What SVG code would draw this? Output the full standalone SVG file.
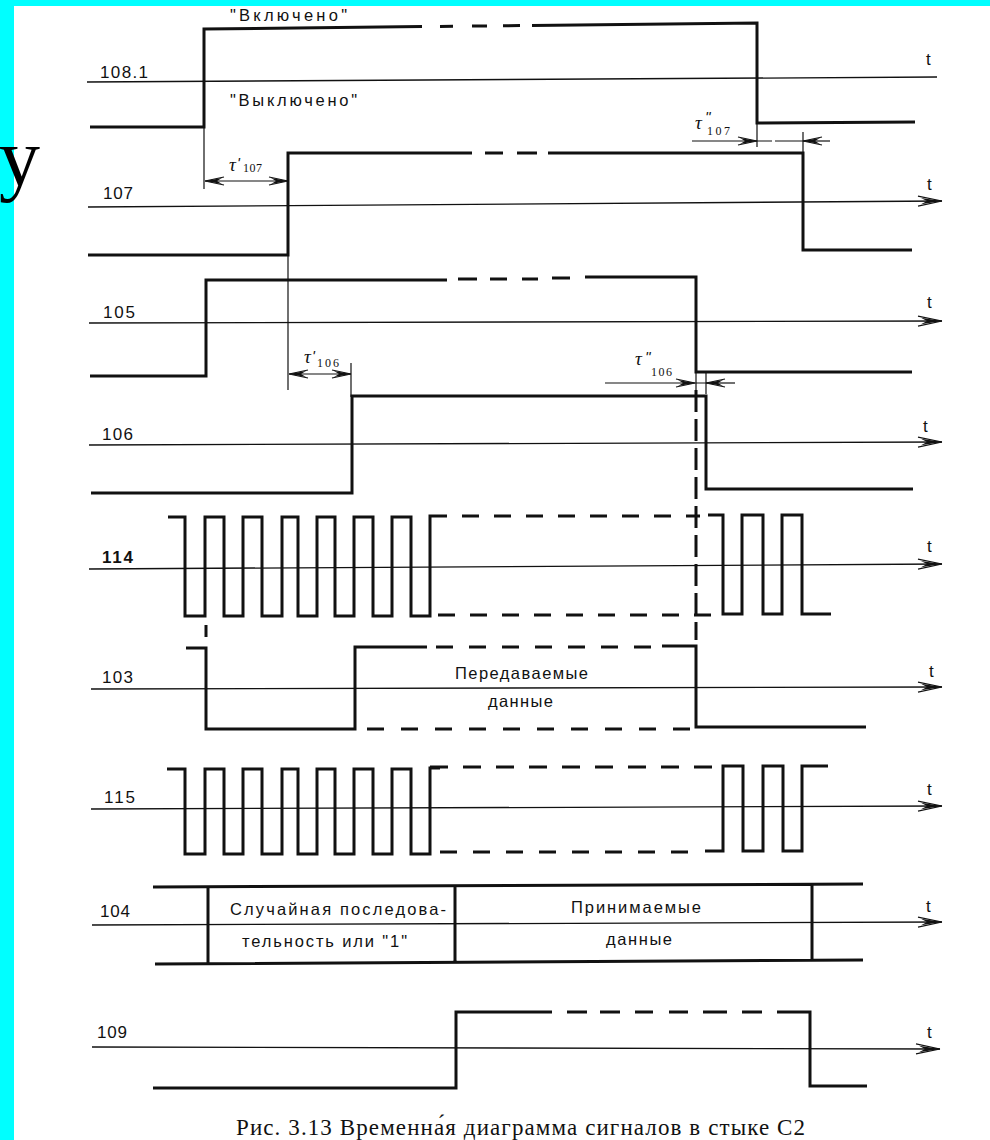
<svg xmlns="http://www.w3.org/2000/svg" width="990" height="1140" viewBox="0 0 990 1140">
<defs>
<style>
.sig{fill:none;stroke:#111;stroke-width:3;stroke-linejoin:miter;stroke-linecap:butt}
.ax{fill:none;stroke:#111;stroke-width:1.3}
.thin{fill:none;stroke:#111;stroke-width:1.2}
.lbl{font-family:"Liberation Sans",Arial,sans-serif;font-size:17px;fill:#111}
.tl{font-family:"Liberation Sans",Arial,sans-serif;font-size:17px;fill:#111}
.txt{font-family:"Liberation Sans",Arial,sans-serif;font-size:16.5px;fill:#111}
.tau{font-family:"Liberation Serif","Times New Roman",serif;font-style:italic;font-size:19px;fill:#111}
.pr{font-family:"Liberation Sans",Arial,sans-serif;font-style:italic;font-size:15px;fill:#111}
.sub{font-family:"Liberation Serif","Times New Roman",serif;font-size:12px;fill:#111}
</style>
<marker id="arr" viewBox="-25 -6 26 12" refX="0" refY="0" markerWidth="26" markerHeight="12" markerUnits="userSpaceOnUse" orient="auto-start-reverse">
<path d="M0,0 L-24,-5 M0,0 L-24,5" stroke="#111" stroke-width="1.2" fill="none"/>
<path d="M0,0 L-21,-3.2 L-15,0 L-21,3.2 Z" fill="#111"/>
</marker>
<marker id="sa" viewBox="-21 -5 22 10" refX="0" refY="0" markerWidth="22" markerHeight="10" markerUnits="userSpaceOnUse" orient="auto-start-reverse">
<path d="M0,0 L-19,-4 M0,0 L-19,4" stroke="#111" stroke-width="1.1" fill="none"/>
<path d="M0,0 L-17,-3 L-12,0 L-17,3 Z" fill="#111"/>
</marker>
</defs>
<rect x="0" y="0" width="990" height="1140" fill="#ffffff"/>
<rect x="0" y="0" width="990" height="6" fill="#00ffff"/>
<rect x="0" y="0" width="14" height="1140" fill="#00ffff"/>
<text x="-1" y="185" font-family="Liberation Serif,'Times New Roman',serif" font-size="82" fill="#000">у</text>

<g id="row-108-1">
<path class="ax" d="M87,82 L937,77"/>
<path class="sig" d="M90,127 H204 V29 L422,26.6"/>
<path class="sig" d="M440,26.4 L453,26.3 M472,26 L487,25.9 M503,25.8 L520,25.6"/>
<path class="sig" d="M532,25.4 L757,23 V123 L915,122"/>
<path class="thin" d="M204,127 V189 M757,123 V147"/>
<text class="lbl" x="100" y="78" textLength="48" lengthAdjust="spacing">108.1</text>
<text class="tl" x="926" y="65">t</text>
<text class="txt" x="230" y="21" textLength="117" lengthAdjust="spacing">"Включено"</text>
<text class="txt" x="230" y="106" textLength="127" lengthAdjust="spacing">"Выключено"</text>
</g>

<g id="row-107">
<path class="ax" d="M88,207 L942,201" marker-end="url(#arr)"/>
<path class="sig" d="M88,255 H288 V153 H472 M485,153 H503 M517,153 H537 M548,153 H803 V250 H912"/>
<path class="thin" d="M288,255 V390"/>
<text class="lbl" x="103" y="199" textLength="30" lengthAdjust="spacing">107</text>
<text class="tl" x="927" y="190">t</text>
</g>

<g id="row-105">
<path class="ax" d="M89,323 L942,321" marker-end="url(#arr)"/>
<path class="sig" d="M90,376 H206 V280 H447 M458,279 H477 M490,279 H507 M522,279 H538 M552,278 H570 M585,277 H696 V372 H912"/>
<text class="lbl" x="103" y="318" textLength="32" lengthAdjust="spacing">105</text>
<text class="tl" x="927" y="308">t</text>
</g>

<g id="row-106">
<path class="ax" d="M89,445 L942,442" marker-end="url(#arr)"/>
<path class="sig" d="M91,493 H352 V396 H706 V489 H913"/>
<text class="lbl" x="102" y="440" textLength="31" lengthAdjust="spacing">106</text>
<text class="tl" x="923" y="432">t</text>
</g>

<g id="row-114">
<path class="ax" d="M89,569 L942,564" marker-end="url(#arr)"/>
<path class="sig" d="M168,517 H185 V616 H205 V517 H224 V616 H243 V517 H262 V616 H282 V517 H298 V616 H317 V517 H335 V616 H354 V517 H373 V616 H392 V517 H411 V616 H430 V516 H447"/>
<path class="sig" d="M462,516 H700" stroke-dasharray="17 15"/>
<path class="sig" d="M438,615 H713" stroke-dasharray="17 15"/>
<path class="sig" d="M708,515 H723 V614 H742 V515 H763 V614 H782 V515 H802 V614 H831"/>
<path class="sig" d="M206,625 V637" stroke-width="2.5"/>
<text class="lbl" x="102" y="563" textLength="31" lengthAdjust="spacing" font-weight="bold">114</text>
<text class="tl" x="927" y="552">t</text>
</g>

<g id="row-103">
<path class="ax" d="M91,689 L942,687" marker-end="url(#arr)"/>
<path class="sig" d="M186,648 H206 V729 H355 V647 H427"/>
<path class="sig" d="M436,647 H652" stroke-dasharray="17 16"/>
<path class="sig" d="M662,646 H696 V727 H866"/>
<path class="sig" d="M367,729 H690" stroke-dasharray="17 17"/>
<text class="txt" x="455" y="679" textLength="133" lengthAdjust="spacing">Передаваемые</text>
<text class="txt" x="488" y="707" textLength="65" lengthAdjust="spacing">данные</text>
<text class="lbl" x="102" y="683" textLength="31" lengthAdjust="spacing">103</text>
<text class="tl" x="929" y="677">t</text>
</g>

<g id="row-115">
<path class="ax" d="M91,809 L942,806" marker-end="url(#arr)"/>
<path class="sig" d="M167,769 H185 V854 H205 V769 H224 V854 H243 V769 H262 V854 H282 V769 H298 V854 H317 V769 H335 V854 H354 V769 H373 V854 H392 V769 H411 V854 H430 V768 H440"/>
<path class="sig" d="M430,767 H712" stroke-dasharray="18 15"/>
<path class="sig" d="M440,852 H690" stroke-dasharray="17 16"/>
<path class="sig" d="M705,851 H723 V766 H743 V851 H763 V766 H783 V851 H802 V766 H828"/>
<text class="lbl" x="104" y="803" textLength="31" lengthAdjust="spacing">115</text>
<text class="tl" x="927" y="795">t</text>
</g>

<g id="row-104">
<path class="ax" d="M92,925 L942,922" marker-end="url(#arr)"/>
<path class="sig" d="M153,887 L863,884 M155,964 L863,960 M208,887 V964 M455,886 V963 M812,885 V961"/>
<text class="txt" x="230" y="915" textLength="216" lengthAdjust="spacing">Случайная последова-</text>
<text class="txt" x="242" y="947" textLength="165" lengthAdjust="spacing">тельность или "1"</text>
<text class="txt" x="571" y="913" textLength="130" lengthAdjust="spacing">Принимаемые</text>
<text class="txt" x="606" y="945" textLength="66" lengthAdjust="spacing">данные</text>
<text class="lbl" x="100" y="917" textLength="30" lengthAdjust="spacing">104</text>
<text class="tl" x="926" y="912">t</text>
</g>

<g id="row-109">
<path class="ax" d="M92,1047 L940,1049" marker-end="url(#arr)"/>
<path class="sig" d="M153,1088 H456 V1012 H552 M567,1012 H587 M600,1012 H620 M635,1012 H653 M669,1012 H688 M703,1012 H727 M742,1012 H762 M777,1012 H810 V1086 H867"/>
<text class="lbl" x="97" y="1038" textLength="30" lengthAdjust="spacing">109</text>
<text class="tl" x="927" y="1038">t</text>
</g>

<g id="connectors">
<path class="thin" d="M205,181 H288" marker-start="url(#sa)" marker-end="url(#sa)"/>
<text class="tau" x="229" y="171">τ</text>
<text class="pr" x="237" y="168">'</text>
<text class="sub" x="243" y="172" textLength="19" lengthAdjust="spacing">107</text>

<path class="thin" d="M692,141 H757" marker-end="url(#sa)"/>
<path class="thin" d="M757,141 H772 M775,141 H803 M803,132 V152"/>
<path class="thin" d="M830,141 H803" marker-end="url(#sa)"/>
<text class="tau" x="695" y="129">τ</text>
<text class="pr" x="705" y="122">''</text>
<text class="sub" x="707" y="135" textLength="23" lengthAdjust="spacing">107</text>

<path class="thin" d="M289,374 H351" marker-start="url(#sa)" marker-end="url(#sa)"/>
<path class="thin" d="M351,363 V397"/>
<text class="tau" x="304" y="363">τ</text>
<text class="pr" x="312" y="361">'</text>
<text class="sub" x="317" y="367" textLength="22" lengthAdjust="spacing">106</text>

<path class="thin" d="M605,383 H695" marker-end="url(#sa)"/>
<path class="thin" d="M695,383 H706 M706,373 V394 M696,372 V390"/>
<path class="thin" d="M735,383 H706" marker-end="url(#sa)"/>
<path class="sig" d="M696,390 V640" stroke-width="2.5" stroke-dasharray="22 7"/>
<text class="tau" x="635" y="365">τ</text>
<text class="pr" x="645" y="362">''</text>
<text class="sub" x="651" y="376" textLength="21" lengthAdjust="spacing">106</text>
</g>

<text x="236" y="1135" font-family="'Liberation Serif','Times New Roman',serif" font-size="23" fill="#111" textLength="569" lengthAdjust="spacing">Рис. 3.13 Временна́я диаграмма сигналов в стыке С2</text>
</svg>
